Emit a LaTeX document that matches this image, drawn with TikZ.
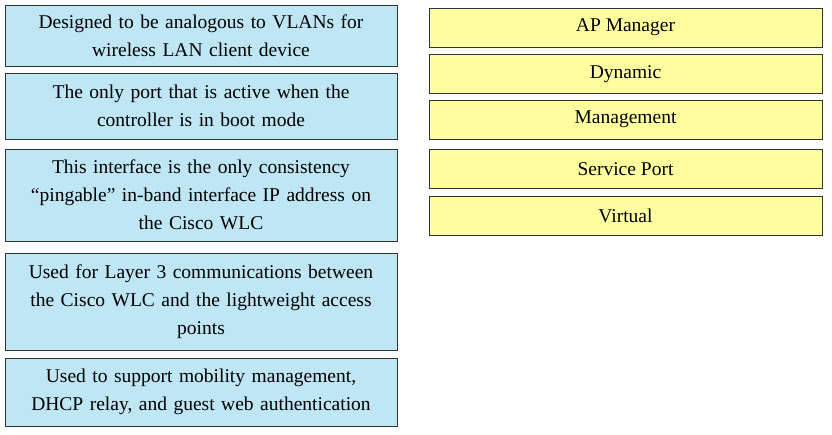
\documentclass[tikz,border=0pt]{standalone}
\usepackage{fontspec}
\setmainfont{Liberation Serif}
\definecolor{descblue}{RGB}{190,230,244}
\definecolor{itemyellow}{RGB}{255,255,160}
\tikzset{
  box/.style={draw=black!80, line width=1pt, inner sep=0pt, align=center,
    font=\fontsize{19.5}{28}\selectfont},
  desc/.style={box, fill=descblue, minimum width=392pt, text width=380pt},
  item/.style={box, fill=itemyellow, minimum width=393pt, minimum height=39pt}
}
\begin{document}
\begin{tikzpicture}[x=1pt,y=-1pt]
                         \useasboundingbox (0,0) rectangle (832,434);
                         % Nodes
                         \node[desc, minimum height=61pt] (vlan) at (201,35.5) {Designed to be analogous to VLANs for\\wireless LAN client device};
                         \node[desc, minimum height=66pt] (boot) at (201,106) {The only port that is active when the\\controller is in boot mode};
                         \node[desc, minimum height=92pt] (ping) at (201,195) {This interface is the only consistency\\``pingable'' in-band interface IP address on\\the Cisco WLC};
                         \node[desc, minimum height=97pt] (layer) at (201,301.5) {Used for Layer 3 communications between\\the Cisco WLC and the lightweight access\\points};
                         \node[desc, minimum height=68pt] (mobility) at (201,392) {Used to support mobility management,\\DHCP relay, and guest web authentication};

                         \node[item] (apmgr) at (625.5,27.5) {AP Manager};
                         \node[item] (dynamic) at (625.5,74) {Dynamic};
                         \node[item] (mgmt) at (625.5,119.5) {Management};
                         \node[item] (service) at (625.5,169) {Service Port};
                         \node[item] (virtual) at (625.5,215.5) {Virtual};
                    \end{tikzpicture}
\end{document}
